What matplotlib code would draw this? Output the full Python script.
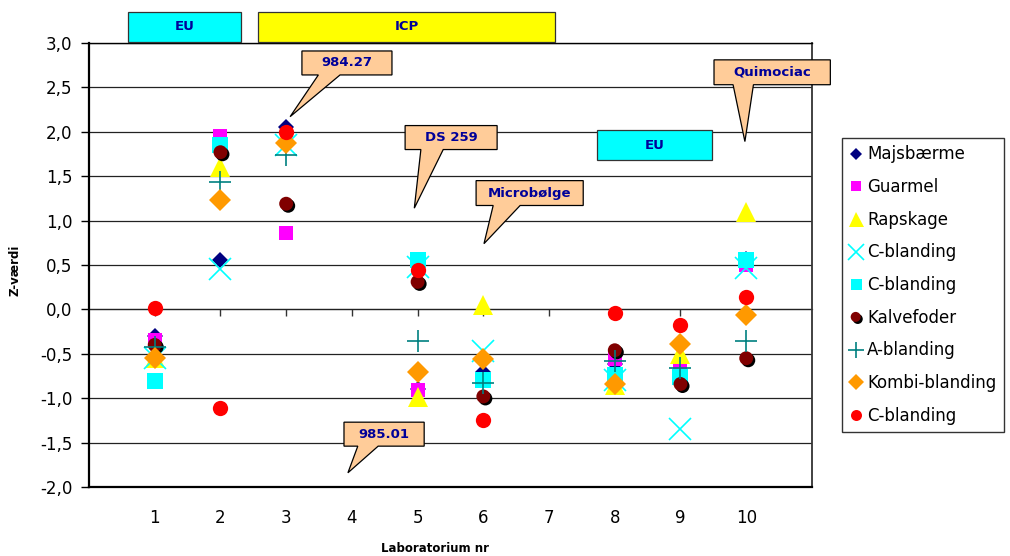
import numpy as np
import matplotlib
matplotlib.use("Agg")
import matplotlib.pyplot as plt
import matplotlib.patheffects as pe
from matplotlib.patches import Polygon, Rectangle

labs = [1, 2, 3, 5, 6, 8, 9, 10]
majsbaerme = [-0.30, 0.56, 2.05, -0.90, -0.70, -0.62, -0.60, 0.57]
guarmel = [-0.35, 1.95, 0.86, -0.91, -0.78, -0.56, -0.63, 0.50]
rapskage = [-0.55, 1.60, np.nan, -0.99, 0.05, -0.85, -0.50, 1.10]
c_bland_x = [-0.55, 0.46, 1.85, 0.48, -0.47, -0.80, -1.35, 0.47]
c_bland_sq = [-0.81, 1.85, np.nan, 0.56, -0.80, -0.74, -0.76, 0.56]
kalvefoder = [-0.40, 1.77, 1.19, 0.31, -0.98, -0.46, -0.84, -0.55]
a_bland = [-0.42, 1.44, 1.74, -0.36, -0.83, -0.58, -0.66, -0.36]
kombi = [-0.55, 1.23, 1.87, -0.71, -0.56, -0.84, -0.39, -0.06]
c_bland_red = [0.02, -1.11, 2.00, 0.44, -1.24, -0.04, -0.18, 0.14]

xticks = list(range(1, 11))
yticks = np.arange(-2.0, 3.01, 0.5)

# (label, values, marker, color, size)
series = [
    ("Majsbærme", majsbaerme, "D", "#000080", 8),
    ("Guarmel", guarmel, "s", "#FF00FF", 10),
    ("Rapskage", rapskage, "^", "#FFFF00", 15),
    ("C-blanding", c_bland_x, "x", "#00FFFF", 16),
    ("C-blanding", c_bland_sq, "s", "#00FFFF", 11),
    ("Kalvefoder", kalvefoder, "o", "#800000", 10),
    ("A-blanding", a_bland, "+", "#008080", 16),
    ("Kombi-blanding", kombi, "D", "#FF9900", 11),
    ("C-blanding", c_bland_red, "o", "#FF0000", 11),
]

# callouts: text, box (x0, x1, y0, y1), wedge base (b0, b1), tip
callouts = [
    ("984.27", (3.24, 4.61, 2.64, 2.91), (3.49, 3.82), (3.06, 2.17)),
    ("DS 259", (4.81, 6.21, 1.80, 2.07), (5.05, 5.39), (4.95, 1.14)),
    ("Microbølge", (5.89, 7.52, 1.17, 1.45), (6.15, 6.56), (6.01, 0.74)),
    ("Quimociac", (9.51, 11.28, 2.53, 2.81), (9.80, 10.11), (9.98, 1.89)),
    ("985.01", (3.88, 5.10, -1.54, -1.27), (4.09, 4.40), (3.94, -1.84)),
]
boxes = [
    ("EU", (0.59, 2.31, 3.01, 3.35), "#00FFFF"),
    ("ICP", (2.57, 7.09, 3.01, 3.35), "#FFFF00"),
    ("EU", (7.73, 9.48, 1.68, 2.02), "#00FFFF"),
]

plt.rcParams['font.family'] = 'DejaVu Sans'
fig = plt.figure(figsize=(10.1, 5.56), dpi=100)
ax = fig.add_axes([0.0881, 0.1241, 0.7158, 0.7986])

ax.set_xlim(0, 11)
ax.set_ylim(-2, 3)
ax.set_yticks(yticks)
ax.set_yticklabels([f"{v:.1f}".replace(".", ",") for v in yticks], fontsize=12)
ax.yaxis.grid(True, color="#222222", lw=0.9)
ax.set_axisbelow(True)
ax.tick_params(axis="y", length=6, width=1, pad=6)

ax.set_xticks(xticks)
ax.set_xticklabels([str(t) for t in xticks], fontsize=12)
ax.tick_params(axis="x", length=0, pad=16)

for s in ["left", "bottom"]:
    ax.spines[s].set_linewidth(1.6)
    ax.spines[s].set_color("black")
ax.spines["top"].set_linewidth(1.0)
ax.spines["right"].set_color("#333333")
ax.spines["right"].set_linewidth(1.3)

# category axis crossing at zero
sec = ax.secondary_xaxis(0.4)
sec.set_xticks(xticks)
sec.set_xticklabels([])
sec.tick_params(length=5, width=1, color="#333333")
sec.spines["bottom"].set_color("#555555")
sec.spines["bottom"].set_linewidth(0.9)

for label, vals, mk, col, ms in series:
    kw = dict(linestyle="none", marker=mk, color=col, markersize=ms, label=label)
    if mk in ("x", "+"):
        kw["markeredgewidth"] = 1.2
    else:
        kw["markeredgecolor"] = col
        kw["markeredgewidth"] = 0
    if label == "Kalvefoder":
        kw["path_effects"] = [pe.SimplePatchShadow(offset=(1.5, -1.5), shadow_rgbFace="black", alpha=1.0), pe.Normal()]
    ax.plot(labs, vals, **kw)

txt_color = "#000099"
for text, (x0, x1, y0, y1), (b0, b1), tip in callouts:
    pts = [(x0, y1), (x1, y1), (x1, y0), (b1, y0), tip, (b0, y0), (x0, y0)]
    ax.add_patch(Polygon(pts, closed=True, facecolor="#FFCC99", edgecolor="black",
                         lw=0.9, clip_on=False, zorder=5))
    ax.text((x0 + x1) / 2, (y0 + y1) / 2, text, ha="center", va="center", fontsize=9.5,
            fontweight="bold", color=txt_color, zorder=6, clip_on=False)

for text, (x0, x1, y0, y1), fc in boxes:
    ax.add_patch(Rectangle((x0, y0), x1 - x0, y1 - y0, facecolor=fc, edgecolor="#333333",
                           lw=0.9, clip_on=False, zorder=5))
    ax.text((x0 + x1) / 2, (y0 + y1) / 2, text, ha="center", va="center", fontsize=9.5,
            fontweight="bold", color=txt_color, zorder=6, clip_on=False)

leg = fig.legend(loc="upper left", bbox_to_anchor=(0.834, 0.752), fontsize=12,
                 frameon=True, fancybox=False, edgecolor="black", markerscale=0.72,
                 handlelength=0.7, handletextpad=0.35, labelspacing=0.88,
                 borderpad=0.45, borderaxespad=0)
leg.get_frame().set_linewidth(1.0)

fig.text(435 / 1010, 1 - 548 / 556, "Laboratorium nr", ha="center", va="center",
         fontsize=8.5, fontweight="bold")
fig.text(15 / 1010, 1 - 270 / 556, "Z-værdi", ha="center", va="center",
         fontsize=8.5, fontweight="bold", rotation=90)

fig.savefig("out.png", dpi=100)
